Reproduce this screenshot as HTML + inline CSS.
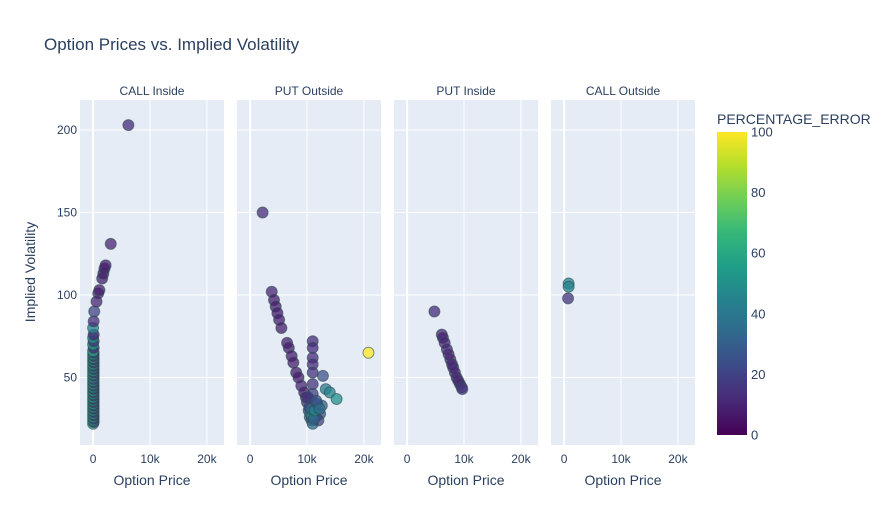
<!DOCTYPE html>
<html><head><meta charset="utf-8"><style>
body{margin:0;background:#fff;font-family:"Liberation Sans",sans-serif;}
</style></head><body>
<svg id="c" width="891" height="525" xmlns="http://www.w3.org/2000/svg" style="font-family:'Liberation Sans',sans-serif">
<defs><linearGradient id="vir" x1="0" y1="1" x2="0" y2="0">
<stop offset="0" stop-color="#440154"/><stop offset="0.111" stop-color="#482878"/><stop offset="0.222" stop-color="#3e4989"/><stop offset="0.333" stop-color="#31688e"/><stop offset="0.444" stop-color="#26828e"/><stop offset="0.556" stop-color="#1f9e89"/><stop offset="0.667" stop-color="#35b779"/><stop offset="0.778" stop-color="#6ece58"/><stop offset="0.889" stop-color="#b5de2b"/><stop offset="1" stop-color="#fde725"/>
</linearGradient></defs>
<text x="44" y="50" font-size="17" fill="#2a3f5f">Option Prices vs. Implied Volatility</text>
<text transform="translate(35,272) rotate(-90)" text-anchor="middle" font-size="14" fill="#2a3f5f">Implied Volatility</text>
<g id="panels"></g>
<rect x="717" y="132" width="30" height="303" fill="url(#vir)"/>
<text x="717" y="124" font-size="14" fill="#2a3f5f">PERCENTAGE_ERROR</text>
<g id="cb"></g>
</svg>
<script>
const facetNames=["CALL Inside","PUT Outside","PUT Inside","CALL Outside"];
const xTicks=[0,10,20];
const xTickLabels=["0","10k","20k"];
const yTicks=[50,100,150,200];
const cbTicks=[0,20,40,60,80,100];
const p1Price=[0,0.1,0,0.1,0,0.1,0,0.1,0,0.1,0,0.1,0,0.1,0,0.1,0,0.1,0,0.1,0,0.1,0,0.1,0,0.1,0,0.1,0,0.1,0,0.1,0,0.1,0,0.1,0,0.1,0,0.1,0,0.1,0,0.1,0,0.1,0,0.1,0,0.1,0,0.1,0.2,0.6,0.9,1.1,1.6,1.8,2.0,2.2,3.1,6.2];
const p1IV=[22,23,24,25,26,27,28,29,30,31,32,33,34,35,36,37,38,39,40,41,42,43,44,45,46,47,48,49,50,51,52,53,54,55,56,57,58,59,60,61,62,63,64,65,66,68,70,72,74,76,80,84,90,96,101,103,110,113,116,118,131,203];
const p1Err=[60,10,55,12,60,10,55,12,60,10,55,12,60,10,55,12,60,10,55,12,60,10,55,12,60,10,55,12,60,10,55,12,60,10,55,12,60,10,55,12,60,10,55,12,60,10,55,12,50,10,45,12,20,10,10,8,8,8,8,8,10,12];
const p2Price=[2.2,3.8,4.2,4.5,4.8,5.1,5.5,6.5,6.8,7.3,7.6,8.1,8.5,9.0,9.5,9.8,10,10.3,10.5,10.8,11,11,11,11,11,11,11,11,11,11,12.8,13.3,14,15.2,12.6,12.3,12.0,11.5,20.8,10.6,10.9,11.2,10.4,10.7,11.4,11.8,10.2,11.6,12.2];
const p2IV=[150,102,97,93,89,85,80,71,68,63,59,53,50,45,41,38,35,30,26,24,22,72,68,62,58,53,46,40,35,30,51,43,41,37,33,28,24,26,65,28,27,25,32,31,30,34,38,36,31];
const p2Err=[12,10,8,8,8,8,8,8,8,8,8,8,8,10,8,10,15,20,25,30,35,12,12,12,12,15,15,20,25,30,25,40,45,50,30,25,20,22,100,40,50,30,20,35,45,30,15,25,35];
const p3Price=[4.8,6.1,6.3,6.6,7.0,7.3,7.6,7.9,8.1,8.4,8.7,9.0,9.3,9.6,9.7];
const p3IV=[90,76,74,71,67,64,61,58,56,53,50,48,46,44,43];
const p3Err=[12,10,10,10,10,10,10,10,10,10,10,10,10,15,15];
const p4Price=[0.8,0.8,0.7];
const p4IV=[107,105,98];
const p4Err=[45,45,15];
const facets=[[p1Price,p1IV,p1Err],[p2Price,p2IV,p2Err],[p3Price,p3IV,p3Err],[p4Price,p4IV,p4Err]];

const NS="http://www.w3.org/2000/svg";
const stops=["#440154","#482878","#3e4989","#31688e","#26828e","#1f9e89","#35b779","#6ece58","#b5de2b","#fde725"];
function hex(h){return [1,3,5].map(i=>parseInt(h.substr(i,2),16));}
function viridis(v){let t=Math.max(0,Math.min(1,v/100))*(stops.length-1);let i=Math.min(Math.floor(t),stops.length-2),f=t-i;let a=hex(stops[i]),b=hex(stops[i+1]);return "rgb("+a.map((c,k)=>Math.round(c+(b[k]-c)*f)).join(",")+")";}
const yTop=100,yBot=445,yMin=9.1,yMax=218.2;
function yS(v){return yBot-(v-yMin)/(yMax-yMin)*(yBot-yTop);}
const pw=144,gap=13,x0=80,xMin=-2.3,xMax=23;
function xS(fi,v){return x0+fi*(pw+gap)+(v-xMin)/(xMax-xMin)*pw;}
function el(tag,attrs,parent){const e=document.createElementNS(NS,tag);for(const k in attrs)e.setAttribute(k,attrs[k]);parent.appendChild(e);return e;}
const G=document.getElementById("panels");
facets.forEach((f,fi)=>{
  const g=el("g",{},G);
  
  
  const left=x0+fi*(pw+gap);
  el("rect",{x:left,y:yTop,width:pw,height:yBot-yTop,fill:"#e5ecf6"},g);
  yTicks.forEach(t=>{el("line",{x1:left,x2:left+pw,y1:yS(t),y2:yS(t),stroke:"#fff","stroke-width":1},g);});
  xTicks.forEach((t,i)=>{const x=xS(fi,t);el("line",{x1:x,x2:x,y1:yTop,y2:yBot,stroke:"#fff","stroke-width":t===0?2:1},g);
    const tx=el("text",{x:x,y:463,"text-anchor":"middle","font-size":12,fill:"#2a3f5f"},g);tx.textContent=xTickLabels[i];
    
    });
  const ft=el("text",{x:left+pw/2,y:95,"text-anchor":"middle","font-size":12,fill:"#2a3f5f"},g);ft.textContent=facetNames[fi];
  
  
  const at=el("text",{x:left+pw/2,y:485,"text-anchor":"middle","font-size":14,fill:"#2a3f5f"},g);at.textContent="Option Price";
  
  
  if(fi===0){yTicks.forEach(t=>{const ty=el("text",{x:left-3,y:yS(t)+4,"text-anchor":"end","font-size":12,fill:"#2a3f5f"},g);ty.textContent=t;
    
    });}
  f[0].forEach((p,i)=>{
    const c=el("circle",{cx:xS(fi,p),cy:yS(f[1][i]),r:5.5,fill:viridis(f[2][i]),"fill-opacity":0.75,stroke:"#2f4f4f","stroke-opacity":0.6,"stroke-width":1},g);
    
    
  });
});
const CB=document.getElementById("cb");
cbTicks.forEach(t=>{const y=435-t/100*303;const tx=el("text",{x:751,y:y+4.5,"font-size":13,fill:"#2a3f5f"},CB);tx.textContent=t;
  
  });
</script>
</body></html>
